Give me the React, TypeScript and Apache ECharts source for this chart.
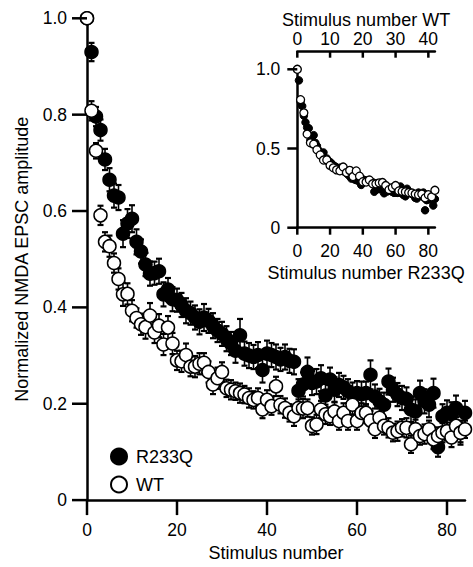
import React, { useEffect, useRef } from 'react';
import * as echarts from 'echarts';

const FONT = '"Liberation Sans", Arial, Helvetica, sans-serif';

// Stimulus index 0..84
const R233Q = [
  1.0, 0.93, 0.796, 0.768, 0.707, 0.665, 0.632, 0.628, 0.553, 0.574,
  0.584, 0.536, 0.516, 0.489, 0.47, 0.471, 0.475, 0.427, 0.437, 0.417,
  0.415, 0.405, 0.393, 0.388, 0.379, 0.37, 0.379, 0.372, 0.362, 0.352,
  0.345, 0.335, 0.325, 0.31, 0.342, 0.304, 0.3, 0.297, 0.301, 0.27,
  0.304, 0.301, 0.297, 0.292, 0.297, 0.289, 0.287, 0.227, 0.24, 0.266,
  0.243, 0.246, 0.253, 0.217, 0.25, 0.229, 0.239, 0.234, 0.226, 0.22,
  0.222, 0.22, 0.222, 0.26, 0.215, 0.205, 0.198, 0.246, 0.229, 0.219,
  0.212, 0.21, 0.188, 0.184, 0.222, 0.205, 0.198, 0.222, 0.11, 0.174,
  0.181, 0.178, 0.191, 0.14, 0.181,
];
const R233Q_SEM = [
  0.0, 0.019, 0.02, 0.022, 0.022, 0.024, 0.025, 0.026, 0.028, 0.03,
  0.028, 0.026, 0.025, 0.024, 0.025, 0.024, 0.026, 0.025, 0.024, 0.025,
  0.024, 0.025, 0.026, 0.024, 0.025, 0.026, 0.028, 0.025, 0.026, 0.024,
  0.025, 0.026, 0.024, 0.025, 0.034, 0.025, 0.026, 0.025, 0.027, 0.026,
  0.027, 0.025, 0.026, 0.024, 0.026, 0.025, 0.026, 0.024, 0.025, 0.03,
  0.025, 0.026, 0.027, 0.024, 0.025, 0.026, 0.025, 0.024, 0.025, 0.024,
  0.025, 0.026, 0.024, 0.03, 0.025, 0.026, 0.025, 0.027, 0.025, 0.024,
  0.025, 0.024, 0.026, 0.025, 0.026, 0.025, 0.026, 0.03, 0.02, 0.025,
  0.026, 0.025, 0.026, 0.025, 0.025,
];
const WT = [
  1.0, 0.808, 0.725, 0.591, 0.536, 0.527, 0.492, 0.459, 0.427, 0.428,
  0.393, 0.378, 0.365, 0.359, 0.383, 0.348, 0.362, 0.323, 0.358, 0.325,
  0.29, 0.288, 0.301, 0.277, 0.277, 0.283, 0.285, 0.266, 0.24, 0.253,
  0.266, 0.232, 0.229, 0.226, 0.222, 0.219, 0.212, 0.208, 0.212, 0.188,
  0.208, 0.195, 0.236, 0.198, 0.191, 0.181, 0.174, 0.191, 0.19, 0.191,
  0.154, 0.157, 0.188, 0.178, 0.174, 0.184, 0.164, 0.181, 0.164, 0.198,
  0.164, 0.181, 0.181, 0.165, 0.147, 0.171, 0.154, 0.15, 0.14, 0.143,
  0.15, 0.15, 0.116, 0.147, 0.133, 0.137, 0.147, 0.126, 0.133, 0.14,
  0.143, 0.13, 0.154, 0.14, 0.147,
];
const WT_SEM = [
  0.0, 0.02, 0.016, 0.02, 0.02, 0.022, 0.02, 0.022, 0.024, 0.022,
  0.022, 0.02, 0.022, 0.024, 0.026, 0.022, 0.024, 0.022, 0.024, 0.022,
  0.02, 0.022, 0.024, 0.02, 0.022, 0.022, 0.02, 0.022, 0.02, 0.022,
  0.02, 0.018, 0.02, 0.018, 0.02, 0.018, 0.02, 0.018, 0.02, 0.018,
  0.02, 0.018, 0.02, 0.018, 0.02, 0.018, 0.02, 0.018, 0.02, 0.018,
  0.018, 0.02, 0.018, 0.02, 0.018, 0.02, 0.018, 0.02, 0.018, 0.02,
  0.018, 0.02, 0.018, 0.02, 0.018, 0.02, 0.018, 0.02, 0.018, 0.02,
  0.018, 0.02, 0.018, 0.02, 0.018, 0.02, 0.018, 0.02, 0.018, 0.02,
  0.018, 0.02, 0.018, 0.02, 0.018,
];

const MAIN_X_TICKS = [0, 20, 40, 60, 80];
const MAIN_Y_TICKS = [0, 0.2, 0.4, 0.6, 0.8, 1.0];
const INSET_X_TICKS = [0, 20, 40, 60, 80];
const INSET_TOP_TICKS = [0, 10, 20, 30, 40];
const INSET_Y_TICKS = [0, 0.5, 1.0];
const MAIN_X_MAX = 84;
const INSET_TOP_MAX = 42;
const TOP_OFFSET = 17.6;
const TW = 2.5; // tick line width

const fmtY = (v: number) => (v === 0 ? '0' : v.toFixed(1));

const errRender = (capHalf: number) => (params: any, api: any) => {
  const x = api.value(0);
  const y = api.value(1);
  const e = api.value(2);
  if (!e) return null;
  const hi = api.coord([x, y + e]);
  const lo = api.coord([x, y - e]);
  const st = { stroke: '#000', lineWidth: 1.6 };
  const cap = { stroke: '#000', lineWidth: 2.2 };
  return {
    type: 'group',
    children: [
      { type: 'line', shape: { x1: hi[0], y1: hi[1], x2: lo[0], y2: lo[1] }, style: st },
      { type: 'line', shape: { x1: hi[0] - capHalf, y1: hi[1], x2: hi[0] + capHalf, y2: hi[1] }, style: cap },
      { type: 'line', shape: { x1: lo[0] - capHalf, y1: lo[1], x2: lo[0] + capHalf, y2: lo[1] }, style: cap },
    ],
  };
};

const txt = { color: '#000', fontFamily: FONT };
const blackLine = { color: '#000', width: 2.5 };

export default function App() {
  const ref = useRef<HTMLDivElement>(null);
  useEffect(() => {
    const chart = echarts.init(ref.current!, null, { renderer: 'svg' });
    const option: any = {
      animation: false,
      grid: [
        { left: 87, top: 18.3, width: 378, height: 488.4 },
        { left: 297.3, top: 69.3, width: 137.6, height: 158.4 },
      ],
      legend: {
        data: ['R233Q', 'WT'],
        orient: 'vertical',
        left: 110,
        top: 447.5,
        padding: 0,
        itemWidth: 16,
        itemHeight: 16,
        itemGap: 10,
        icon: 'circle',
        selectedMode: false,
        textStyle: { ...txt, fontSize: 18, padding: [0, 0, 0, 4] },
      },
      xAxis: [
        {
          gridIndex: 0, type: 'value', min: 0, max: MAIN_X_MAX,
          axisLine: { show: true, lineStyle: blackLine },
          axisTick: { show: false },
          axisLabel: { customValues: MAIN_X_TICKS, margin: 21, fontSize: 17.5, ...txt },
          splitLine: { show: false },
          name: 'Stimulus number', nameLocation: 'middle', nameGap: 41,
          nameTextStyle: { ...txt, fontSize: 18 },
        },
        {
          gridIndex: 1, type: 'value', position: 'bottom', min: 0, max: MAIN_X_MAX,
          axisLine: { show: true, lineStyle: blackLine },
          axisTick: { show: false },
          axisLabel: { customValues: INSET_X_TICKS, margin: 14, fontSize: 17.5, ...txt },
          splitLine: { show: false },
          name: 'Stimulus number R233Q', nameLocation: 'middle', nameGap: 36,
          nameTextStyle: { ...txt, fontSize: 18 },
        },
        {
          gridIndex: 1, type: 'value', position: 'top', offset: TOP_OFFSET, min: 0, max: INSET_TOP_MAX,
          axisLine: { show: true, onZero: false, lineStyle: blackLine },
          axisTick: { show: false },
          axisLabel: { customValues: INSET_TOP_TICKS, margin: 4, fontSize: 17.5, ...txt },
          splitLine: { show: false },
          name: 'Stimulus number WT', nameLocation: 'middle', nameGap: 23,
          nameTextStyle: { ...txt, fontSize: 18 },
        },
      ],
      yAxis: [
        {
          gridIndex: 0, type: 'value', min: 0, max: 1, interval: 0.2,
          axisLine: { show: true, lineStyle: blackLine },
          axisTick: { show: false },
          axisLabel: { margin: 20, fontSize: 17.5, formatter: fmtY, ...txt },
          splitLine: { show: false },
          name: 'Normalized NMDA EPSC amplitude', nameLocation: 'middle', nameGap: 56,
          nameTextStyle: { ...txt, fontSize: 18 },
        },
        {
          gridIndex: 1, type: 'value', min: 0, max: 1, interval: 0.5,
          axisLine: { show: true, lineStyle: blackLine },
          axisTick: { show: false },
          axisLabel: { margin: 17, fontSize: 17.5, formatter: fmtY, ...txt },
          splitLine: { show: false },
        },
      ],
      series: [
        {
          name: 'R233Q SEM', type: 'custom', xAxisIndex: 0, yAxisIndex: 0, clip: false, silent: true,
          renderItem: errRender(3),
          encode: { x: 0, y: 1 },
          data: R233Q.map((v, i) => [i, v, R233Q_SEM[i]]),
        },
        {
          name: 'R233Q', type: 'scatter', xAxisIndex: 0, yAxisIndex: 0, clip: false, silent: true,
          symbol: 'circle', symbolSize: 13,
          itemStyle: { color: '#000', borderColor: '#000', borderWidth: 1.5, opacity: 1 },
          data: R233Q.map((v, i) => [i, v]),
        },
        {
          name: 'WT SEM', type: 'custom', xAxisIndex: 0, yAxisIndex: 0, clip: false, silent: true,
          renderItem: errRender(3),
          encode: { x: 0, y: 1 },
          data: WT.map((v, i) => [i, v, WT_SEM[i]]),
        },
        {
          name: 'WT', type: 'scatter', xAxisIndex: 0, yAxisIndex: 0, clip: false, silent: true,
          symbol: 'circle', symbolSize: 13,
          itemStyle: { color: '#fff', borderColor: '#000', borderWidth: 1.5, opacity: 1 },
          data: WT.map((v, i) => [i, v]),
        },
        {
          name: 'R233Q', type: 'scatter', xAxisIndex: 1, yAxisIndex: 1, clip: false, silent: true,
          symbol: 'circle', symbolSize: 7.5,
          itemStyle: { color: '#000', borderColor: '#000', borderWidth: 1, opacity: 1 },
          data: R233Q.map((v, i) => [i, v]),
        },
        {
          name: 'WT', type: 'scatter', xAxisIndex: 2, yAxisIndex: 1, clip: false, silent: true,
          symbol: 'circle', symbolSize: 8,
          itemStyle: { color: '#fff', borderColor: '#000', borderWidth: 1.3, opacity: 1 },
          data: WT.slice(0, INSET_TOP_MAX + 1).map((v, i) => [i, v]),
        },
      ],
    };
    chart.setOption(option);

    // Tick marks: positions come from the axes' own scales via convertToPixel
    const ticks: any[] = [];
    const addTick = (finder: any, val: number[], dx1: number, dy1: number, dx2: number, dy2: number) => {
      const p = chart.convertToPixel(finder, val) as number[];
      if (!p || isNaN(p[0]) || isNaN(p[1])) return;
      ticks.push({
        type: 'line', silent: true, z: 100,
        shape: { x1: p[0] + dx1, y1: p[1] + dy1, x2: p[0] + dx2, y2: p[1] + dy2 },
        style: { stroke: '#000', lineWidth: TW },
      });
    };
    const main = { xAxisIndex: 0, yAxisIndex: 0 };
    const insetB = { xAxisIndex: 1, yAxisIndex: 1 };
    const insetT = { xAxisIndex: 2, yAxisIndex: 1 };
    MAIN_X_TICKS.forEach((v) => addTick(main, [v, 0], 0, 0, 0, 15));
    MAIN_Y_TICKS.forEach((v) => addTick(main, [0, v], -15, 0, 0, 0));
    INSET_X_TICKS.forEach((v) => addTick(insetB, [v, 0], 0, 0, 0, 7));
    INSET_Y_TICKS.forEach((v) => addTick(insetB, [0, v], -10, 0, 0, 0));
    INSET_TOP_TICKS.forEach((v) => addTick(insetT, [v, 1], 0, -TOP_OFFSET, 0, -TOP_OFFSET + 6));
    chart.setOption({ graphic: ticks });

    return () => chart.dispose();
  }, []);
  return (
    <div
      ref={ref}
      style={{ position: 'fixed', left: 0, top: 0, width: 473, height: 567, background: '#fff' }}
    />
  );
}
